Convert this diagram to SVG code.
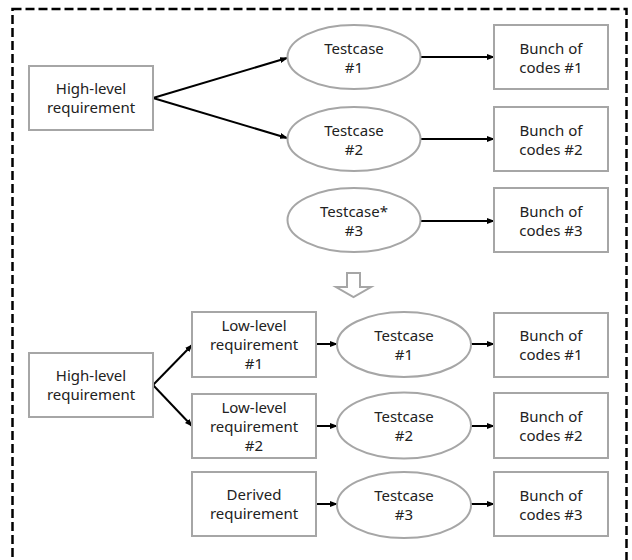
<svg xmlns="http://www.w3.org/2000/svg" width="632" height="560" viewBox="0 0 632 560">
  <defs>
    <marker id="arrow" markerUnits="userSpaceOnUse" markerWidth="8" markerHeight="6" refX="7" refY="3" orient="auto">
      <path d="M0,0 L8,3 L0,6 Z" fill="#000"/>
    </marker>
    <style>
      .box { fill: #fff; stroke: #a6a6a6; stroke-width: 2; }
      .oval { fill: #fff; stroke: #a6a6a6; stroke-width: 2; }
      .label { font-family: "Noto Sans", "Open Sans", sans-serif; font-size: 15px; fill: #222; text-anchor: middle; }
      .link { stroke: #000; stroke-width: 2; fill: none; marker-end: url(#arrow); }
      .frame { fill: none; stroke: #000; stroke-width: 2.5; stroke-dasharray: 9 4; }
      .step { fill: #fff; stroke: #a6a6a6; stroke-width: 2; stroke-linejoin: miter; }
    </style>
  </defs>

  <rect width="632" height="560" fill="#fff"/>

  <!-- dashed outer frame (bottom edge runs off the canvas) -->
  <rect class="frame" x="12.5" y="9" width="614" height="570"/>

  <!-- connectors -->
  <g id="connectors">
    <line class="link" x1="153" y1="98" x2="287" y2="58"/>
    <line class="link" x1="153" y1="98" x2="287" y2="138"/>
    <line class="link" x1="421" y1="57" x2="494" y2="57"/>
    <line class="link" x1="421" y1="139" x2="494" y2="139"/>
    <line class="link" x1="421" y1="221" x2="494" y2="221"/>

    <line class="link" x1="153" y1="385" x2="192" y2="345"/>
    <line class="link" x1="153" y1="385" x2="192" y2="426"/>
    <line class="link" x1="316" y1="344" x2="337" y2="344"/>
    <line class="link" x1="316" y1="426" x2="337" y2="426"/>
    <line class="link" x1="316" y1="504" x2="337" y2="504"/>
    <line class="link" x1="471" y1="344" x2="494" y2="344"/>
    <line class="link" x1="471" y1="426" x2="494" y2="426"/>
    <line class="link" x1="471" y1="504" x2="494" y2="504"/>
  </g>

  <!-- upper section -->
  <g id="hlr-top">
    <rect class="box" x="29" y="66" width="124" height="64"/>
    <text class="label" x="91" y="94">High-level</text>
    <text class="label" x="91" y="113">requirement</text>
  </g>
  <g id="tc1-top">
    <ellipse class="oval" cx="354" cy="57" rx="66.5" ry="32"/>
    <text class="label" x="354" y="54">Testcase</text>
    <text class="label" x="354" y="73">#1</text>
  </g>
  <g id="tc2-top">
    <ellipse class="oval" cx="354" cy="139" rx="66.5" ry="32"/>
    <text class="label" x="354" y="136">Testcase</text>
    <text class="label" x="354" y="155">#2</text>
  </g>
  <g id="tc3-top">
    <ellipse class="oval" cx="354" cy="220" rx="66.5" ry="32"/>
    <text class="label" x="354" y="217">Testcase*</text>
    <text class="label" x="354" y="236">#3</text>
  </g>
  <g id="code1-top">
    <rect class="box" x="494" y="25" width="114" height="64"/>
    <text class="label" x="551" y="54">Bunch of</text>
    <text class="label" x="551" y="73">codes #1</text>
  </g>
  <g id="code2-top">
    <rect class="box" x="494" y="107" width="114" height="64"/>
    <text class="label" x="551" y="136">Bunch of</text>
    <text class="label" x="551" y="155">codes #2</text>
  </g>
  <g id="code3-top">
    <rect class="box" x="494" y="188" width="114" height="64"/>
    <text class="label" x="551" y="217">Bunch of</text>
    <text class="label" x="551" y="236">codes #3</text>
  </g>

  <!-- hollow down arrow between the two sections -->
  <g id="transition">
    <polygon class="step" points="347,273 360,273 360,287 371,287 353.5,297 336,287 347,287"/>
  </g>

  <!-- lower section -->
  <g id="hlr-bottom">
    <rect class="box" x="29" y="353" width="124" height="64"/>
    <text class="label" x="91" y="381">High-level</text>
    <text class="label" x="91" y="400">requirement</text>
  </g>
  <g id="llr1">
    <rect class="box" x="192" y="312" width="124" height="65"/>
    <text class="label" x="254" y="331">Low-level</text>
    <text class="label" x="254" y="350">requirement</text>
    <text class="label" x="254" y="368.5">#1</text>
  </g>
  <g id="llr2">
    <rect class="box" x="192" y="394" width="124" height="64"/>
    <text class="label" x="254" y="413">Low-level</text>
    <text class="label" x="254" y="432">requirement</text>
    <text class="label" x="254" y="450.5">#2</text>
  </g>
  <g id="derived">
    <rect class="box" x="192" y="472" width="124" height="64"/>
    <text class="label" x="254" y="500">Derived</text>
    <text class="label" x="254" y="519">requirement</text>
  </g>
  <g id="tc1-bottom">
    <ellipse class="oval" cx="404" cy="344.5" rx="67" ry="32.5"/>
    <text class="label" x="404" y="341">Testcase</text>
    <text class="label" x="404" y="360">#1</text>
  </g>
  <g id="tc2-bottom">
    <ellipse class="oval" cx="404" cy="425.5" rx="67" ry="33"/>
    <text class="label" x="404" y="422">Testcase</text>
    <text class="label" x="404" y="441">#2</text>
  </g>
  <g id="tc3-bottom">
    <ellipse class="oval" cx="404" cy="505" rx="67" ry="33"/>
    <text class="label" x="404" y="501">Testcase</text>
    <text class="label" x="404" y="520">#3</text>
  </g>
  <g id="code1-bottom">
    <rect class="box" x="494" y="313" width="114" height="64"/>
    <text class="label" x="551" y="341">Bunch of</text>
    <text class="label" x="551" y="360">codes #1</text>
  </g>
  <g id="code2-bottom">
    <rect class="box" x="494" y="393" width="114" height="65"/>
    <text class="label" x="551" y="422">Bunch of</text>
    <text class="label" x="551" y="441">codes #2</text>
  </g>
  <g id="code3-bottom">
    <rect class="box" x="494" y="472" width="114" height="64"/>
    <text class="label" x="551" y="501">Bunch of</text>
    <text class="label" x="551" y="520">codes #3</text>
  </g>
</svg>
